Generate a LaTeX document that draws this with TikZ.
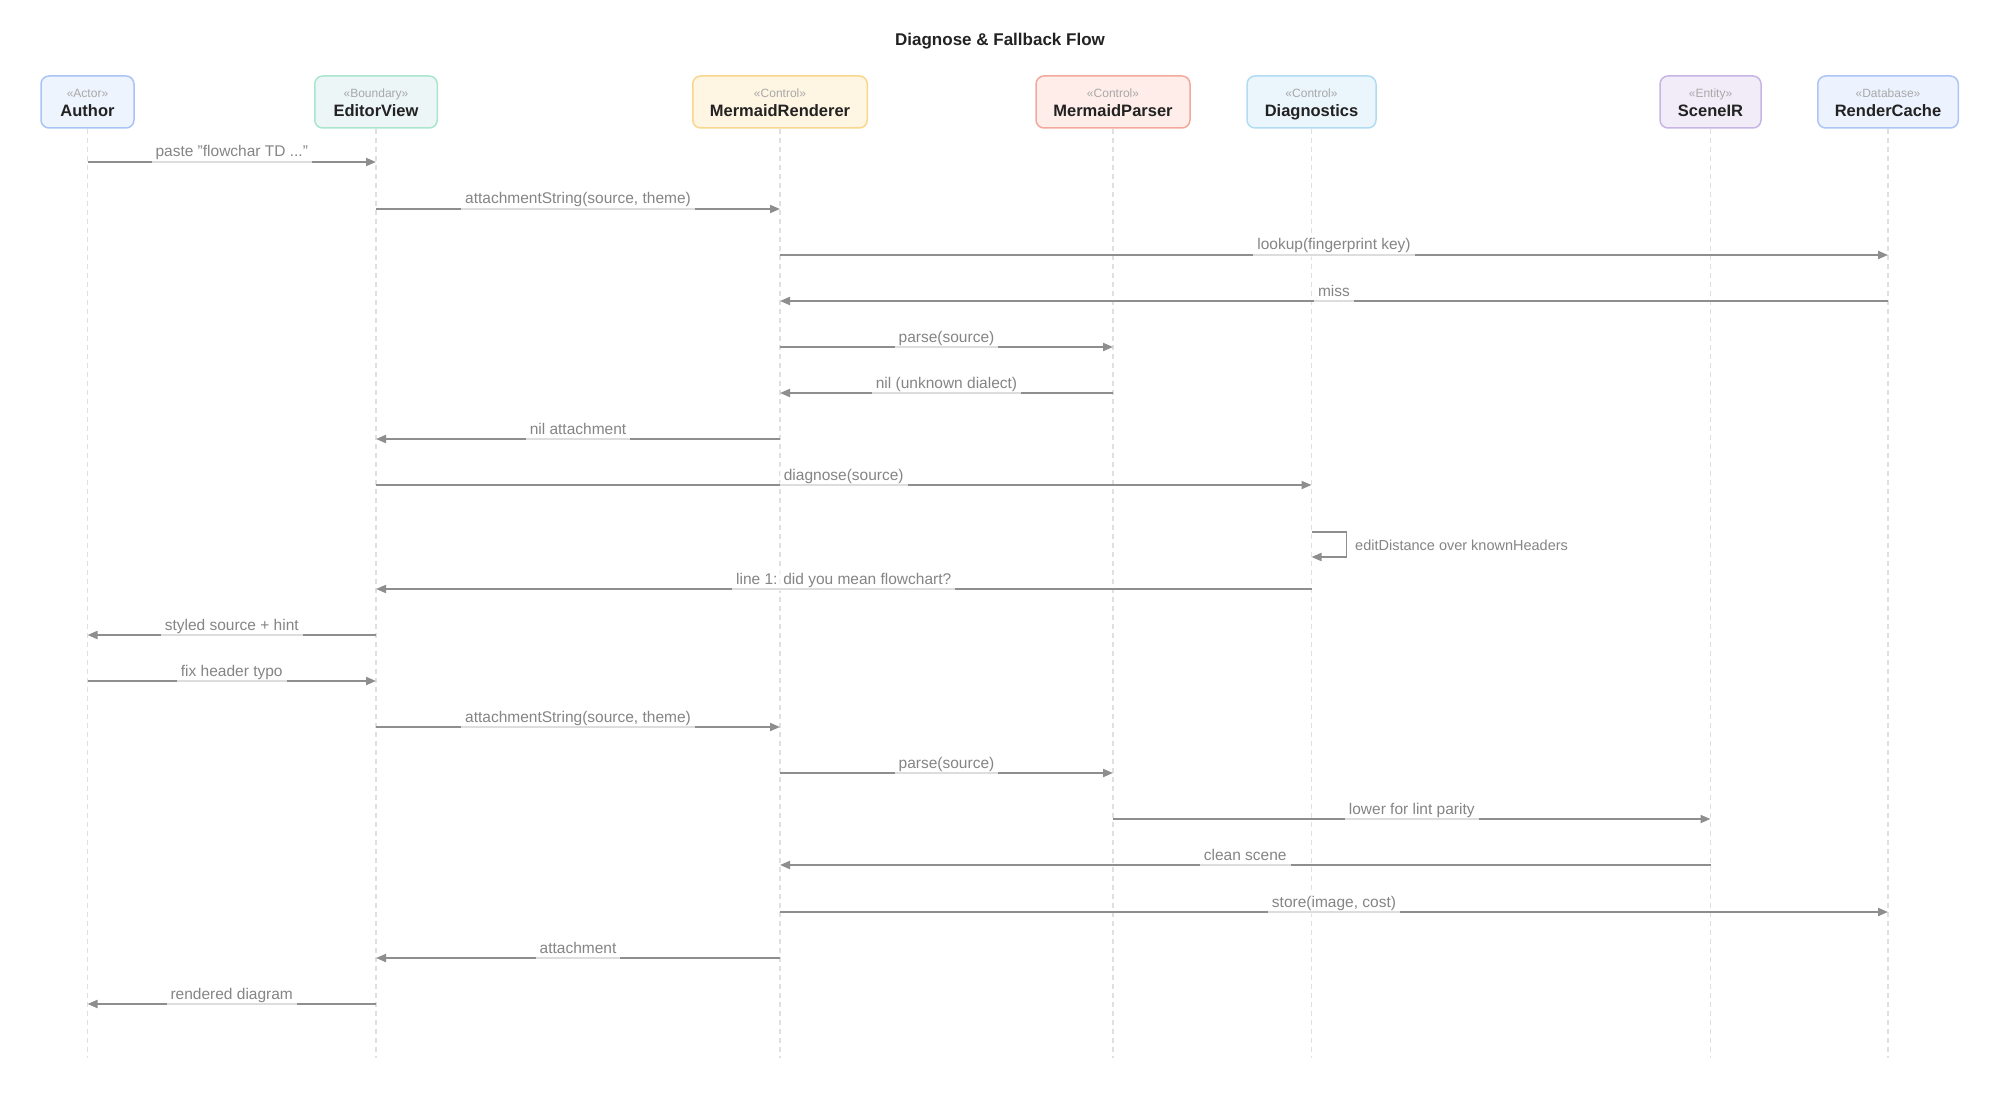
\documentclass[tikz,border=0pt]{standalone}
\usepackage{fontspec}
\setmainfont{Liberation Sans}
\usetikzlibrary{arrows.meta}
\definecolor{arrowc}{HTML}{8E8E8E}
\definecolor{lblc}{HTML}{858585}
\definecolor{lifec}{HTML}{E0E0E0}
\definecolor{stc}{HTML}{A8A8A8}
\definecolor{namec}{HTML}{222222}
\definecolor{fA}{HTML}{EEF4FE}\definecolor{dA}{HTML}{AAC4F6}
\definecolor{fE}{HTML}{EDF6F7}\definecolor{dE}{HTML}{ABE5CE}
\definecolor{fR}{HTML}{FFF5E3}\definecolor{dR}{HTML}{FAD68C}
\definecolor{fP}{HTML}{FFEDEA}\definecolor{dP}{HTML}{F2A99C}
\definecolor{fD}{HTML}{EAF5FC}\definecolor{dD}{HTML}{B1DCF3}
\definecolor{fS}{HTML}{F2ECF8}\definecolor{dS}{HTML}{C7B5E6}
\definecolor{fC}{HTML}{EDF3FE}\definecolor{dC}{HTML}{ADC4F4}
\tikzset{
  pbox/.style={draw, line width=1.5pt, rounded corners=8pt, minimum height=52pt, inner sep=0pt},
  stereo/.style={text=stc, font=\fontsize{12}{14}\selectfont, inner sep=0pt, anchor=base},
  pname/.style={text=namec, font=\bfseries\fontsize{16.5}{19}\selectfont, inner sep=0pt, anchor=base},
  lifeline/.style={draw=lifec, line width=1.3pt, dash pattern=on 5pt off 4pt},
  msg/.style={draw=arrowc, line width=1.9pt, -{Triangle[length=10pt,width=8pt]}},
  lbl/.style={fill=white, fill opacity=0.7, text opacity=1, text=lblc,
    font=\fontsize{15.5}{18}\selectfont, inner xsep=4pt, inner ysep=3pt,
    text height=11pt, text depth=4pt, anchor=base, yshift=5pt},
  selflbl/.style={text=lblc, font=\fontsize{14.5}{17}\selectfont, inner sep=0pt, anchor=base west},
}
\newcommand\seqmsg[4]{\draw[msg] (#1.center |- 0,#3) -- node[lbl]{#4} (#2.center |- 0,#3);}
\begin{document}
\begin{tikzpicture}[x=1pt,y=-1pt]
\useasboundingbox[fill=white] (0,0) rectangle (2000,1102);
\node[font=\bfseries\fontsize{17}{20}\selectfont, text=namec] (title) at (1000,41) {Diagnose \& Fallback Flow};
% participants
\node[pbox, fill=fA, draw=dA, minimum width=93pt] (author) at (87.5,102) {};
\node[pbox, fill=fE, draw=dE, minimum width=122.5pt] (editor) at (376,102) {};
\node[pbox, fill=fR, draw=dR, minimum width=174.5pt] (renderer) at (780,102) {};
\node[pbox, fill=fP, draw=dP, minimum width=154pt] (parser) at (1113,102) {};
\node[pbox, fill=fD, draw=dD, minimum width=129pt] (diag) at (1311.5,102) {};
\node[pbox, fill=fS, draw=dS, minimum width=101pt] (scene) at (1710.5,102) {};
\node[pbox, fill=fC, draw=dC, minimum width=140.5pt] (cache) at (1888,102) {};
\foreach \n/\s/\t in {author/Actor/Author, editor/Boundary/EditorView, renderer/Control/MermaidRenderer, parser/Control/MermaidParser, diag/Control/Diagnostics, scene/Entity/SceneIR, cache/Database/RenderCache}{
  \node[stereo] (\n-st) at (\n.center |- 0,97.5) {«\s»};
  \node[pname] (\n-nm) at (\n.center |- 0,117) {\t};
}
% lifelines
\foreach \n in {author,editor,renderer,parser,diag,scene,cache}{
  \coordinate (\n-end) at (\n.center |- 0,1058);
  \draw[lifeline] (\n.south) -- (\n-end);
}
% messages
\seqmsg{author}{editor}{162}{paste "flowchar TD ..."}
\seqmsg{editor}{renderer}{209}{attachmentString(source, theme)}
\seqmsg{renderer}{cache}{255}{lookup(fingerprint key)}
\seqmsg{cache}{renderer}{301}{miss}
\seqmsg{renderer}{parser}{347}{parse(source)}
\seqmsg{parser}{renderer}{393}{nil (unknown dialect)}
\seqmsg{renderer}{editor}{439}{nil attachment}
\seqmsg{editor}{diag}{485}{diagnose(source)}
\draw[msg] (diag.center |- 0,532) -- ++(35,0) -- ++(0,25) -- (diag.center |- 0,557);
\node[selflbl] (selfl) at (1355,550) {editDistance over knownHeaders};
\seqmsg{diag}{editor}{589}{line 1: did you mean flowchart?}
\seqmsg{editor}{author}{635}{styled source + hint}
\seqmsg{author}{editor}{681}{fix header typo}
\seqmsg{editor}{renderer}{727}{attachmentString(source, theme)}
\seqmsg{renderer}{parser}{773}{parse(source)}
\seqmsg{parser}{scene}{819}{lower for lint parity}
\seqmsg{scene}{renderer}{865}{clean scene}
\seqmsg{renderer}{cache}{912}{store(image, cost)}
\seqmsg{renderer}{editor}{958}{attachment}
\seqmsg{editor}{author}{1004}{rendered diagram}
\end{tikzpicture}
\end{document}
